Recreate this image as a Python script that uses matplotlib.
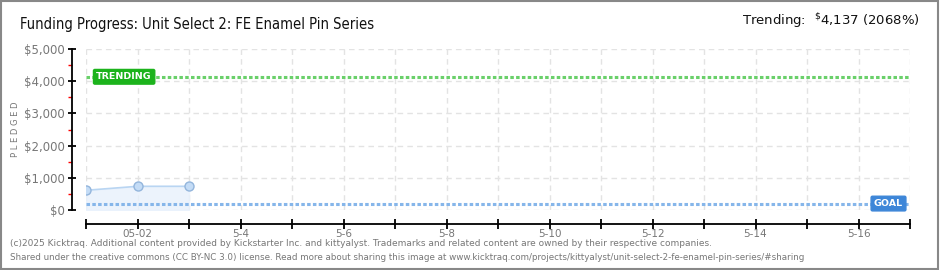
import numpy as np
import matplotlib
matplotlib.use("Agg")
import matplotlib.pyplot as plt
from matplotlib.patches import Rectangle

# data (day of May, pledged $)
days = [1, 2, 3]
pledged = [612, 736, 736]
goal = 200
trending = 4137
tick_days = list(range(1, 18))
label_days = [2, 4, 6, 8, 10, 12, 14, 16]
label_text = ["05-02", "5-4", "5-6", "5-8", "5-10", "5-12", "5-14", "5-16"]
y_ticks = [0, 1000, 2000, 3000, 4000, 5000]
y_labels = ["$0", "$1,000", "$2,000", "$3,000", "$4,000", "$5,000"]

fig = plt.figure(figsize=(9.4, 2.7), dpi=100)
ax = fig.add_axes([86/940, 60/270, 824/940, 161/270])

ax.set_xlim(1, 17)
ax.set_ylim(0, 5000)

# grid
for d in tick_days:
    ax.axvline(d, color='#e3e3e3', lw=1, ls=(0, (4, 3)), zorder=0)
for v in y_ticks:
    ax.axhline(v, color='#e3e3e3', lw=1, ls=(0, (4, 3)), zorder=0)

# goal + trending lines
ax.axhline(goal, color='#86b6ea', lw=2.2, ls=(0, (1.15, 0.75)), zorder=2)
ax.axhline(trending, color='#6ad06a', lw=2.2, ls=(0, (1.15, 0.75)), zorder=2)

# pledged series
ax.fill_between(days, pledged, 0, color='#e8f1fc', alpha=0.8, zorder=1)
ax.plot(days, pledged, color='#b9d5f2', lw=1.2, zorder=3)
ax.plot(days, pledged, 'o', ms=6.5, mfc='#c4dcf6', mec='#93b5dc', mew=1, zorder=4)

# labels on lines
ax.text(1.2, trending, "TRENDING", color='white', fontsize=6.8, fontweight='bold',
        va='center', ha='left', zorder=5,
        bbox=dict(boxstyle='round,pad=0.3,rounding_size=0.15', fc='#1cb31c', ec='#1cb31c'))
ax.text(16.3, goal, "GOAL", color='white', fontsize=6.8, fontweight='bold',
        va='center', ha='left', zorder=5,
        bbox=dict(boxstyle='round,pad=0.3,rounding_size=0.15', fc='#3d86d8', ec='#3d86d8'))

# axes styling
for s in ['top', 'right']:
    ax.spines[s].set_visible(False)
ax.spines['left'].set_position(('outward', 10))
ax.spines['bottom'].set_position(('outward', 10))
ax.spines['left'].set_linewidth(1.3)
ax.spines['bottom'].set_linewidth(1.3)

ax.set_xticks(tick_days)
ax.set_xticklabels([label_text[label_days.index(d)] if d in label_days else "" for d in tick_days])
ax.set_yticks(y_ticks)
ax.set_yticklabels(y_labels)
ax.set_yticks([500, 1500, 2500, 3500, 4500], minor=True)
ax.tick_params(axis='x', direction='inout', length=7, width=1.3, colors='black',
               labelcolor='#777777', labelsize=7.5, pad=0)
ax.tick_params(axis='y', which='major', direction='inout', length=6, width=1.3,
               colors='black', labelcolor='#777777', labelsize=8.5, pad=2)
ax.tick_params(axis='y', which='minor', direction='out', length=3, width=1,
               colors='red')
ax.set_ylabel("P L E D G E D", fontsize=6, color='#777777')
ax.yaxis.set_label_coords(-0.08, 0.5)

# titles
fig.text(20/940, 1 - 24/270, "Funding Progress: Unit Select 2: FE Enamel Pin Series",
         fontsize=10.5, color='#111111', va='center', ha='left', fontstretch='condensed')
fig.text(920/940, 1 - 21/270, r"Trending:  $^{\$}$4,137 (2068%)",
         fontsize=9.5, color='#111111', va='center', ha='right')

# footer
fig.text(10/940, 1 - 243/270,
         "(c)2025 Kicktraq. Additional content provided by Kickstarter Inc. and kittyalyst. "
         "Trademarks and related content are owned by their respective companies.",
         fontsize=6.5, color='#777777', va='center', ha='left')
fig.text(10/940, 1 - 257/270,
         "Shared under the creative commons (CC BY-NC 3.0) license. Read more about sharing this image at "
         "www.kicktraq.com/projects/kittyalyst/unit-select-2-fe-enamel-pin-series/#sharing",
         fontsize=6.3, color='#777777', va='center', ha='left')

# border
fig.patches.append(Rectangle((0.001, 0.002), 0.997, 0.995, transform=fig.transFigure,
                             fill=False, ec='#888888', lw=1.5))

fig.savefig("out.png", dpi=100)
